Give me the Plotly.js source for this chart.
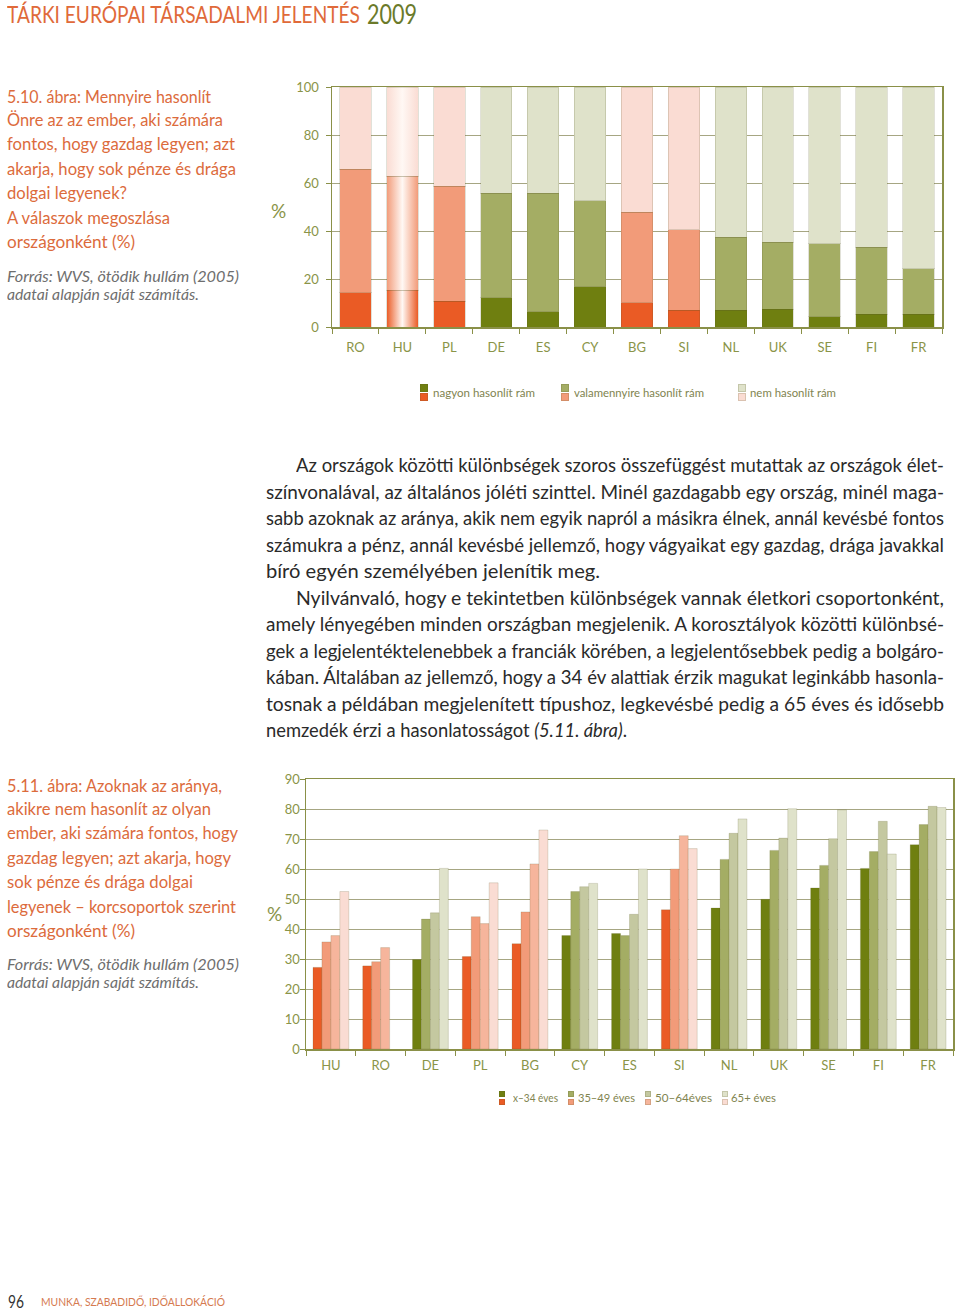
<!DOCTYPE html>
<html><head><meta charset="utf-8">
<script src="https://cdn.plot.ly/plotly-3.0.1.min.js"></script>
<style>
body{margin:0;background:#fff;width:960px;height:1311px;position:relative;overflow:hidden;font-family:Lato,'Noto Sans',sans-serif}
.chart{position:absolute;left:0;width:960px}
.t{position:absolute;white-space:nowrap;transform-origin:0 50%;line-height:1;display:inline-block}
.sw{position:absolute}
</style></head>
<body>
<div id="top" class="chart" style="top:60px;height:320px"></div>
<div id="bot" class="chart" style="top:760px;height:330px"></div>
<div id="txt"></div>
<script>
// ---------- data ----------
const countries1 = ["RO","HU","PL","DE","ES","CY","BG","SI","NL","UK","SE","FI","FR"];
const nagyon = [14.3,15.3,10.7,12.1,6.4,16.8,10.1,6.9,6.9,7.5,4.3,5.3,5.3];
const valamennyire = [51.4,47.6,48.0,43.6,49.3,35.8,37.8,33.7,30.6,27.8,30.4,28.0,18.9];
const nem = [34.3,37.1,41.3,44.3,44.3,47.4,52.1,59.4,62.5,64.7,65.3,66.7,75.8];
const seriesNames1 = ["nagyon hasonlít rám","valamennyire hasonlít rám","nem hasonlít rám"];

const countries2 = ["HU","RO","DE","PL","BG","CY","ES","SI","NL","UK","SE","FI","FR"];
const age34 = [27.2,27.7,29.8,30.8,35.1,37.8,38.5,46.4,47.0,49.9,53.7,60.2,68.1];
const age35_49 = [35.7,29.1,43.3,44.1,45.7,52.5,37.8,60.0,63.2,66.2,61.2,65.8,74.8];
const age50_64 = [37.8,33.8,45.4,41.8,61.7,54.1,44.9,71.1,71.9,70.3,70.1,75.9,80.9];
const age65 = [52.5,null,60.2,55.4,73.0,55.2,60.0,66.8,76.7,80.1,79.7,65.0,80.5];
const seriesNames2 = ["x–34 éves","35–49 éves","50–64éves","65+ éves"];

const orangeCountries = ["RO","HU","PL","BG","SI"];
const yTicks1 = [0,20,40,60,80,100];
const yTicks2 = [0,10,20,30,40,50,60,70,80,90];

// ---------- styles ----------
const ORANGE = ["#ea5b25","#f29b79","#f6b59c","#fadcd3"];
const GREEN  = ["#6f7f10","#a4ad64","#c4c8a0","#dfe2ca"];
const TICKC = "#8a9448", AXC = "#8a9048", GRIDC = "#a6a682";
const FONT = "Lato, 'Noto Sans', sans-serif";

function colorsFor(cats, shade){ return cats.map(c => orangeCountries.includes(c) ? ORANGE[shade] : GREEN[shade]); }

const topShades = [0,1,3];
const topVals = [nagyon, valamennyire, nem];
const topTraces = topVals.map((v,i)=>({
  type:'bar', x:countries1, y:v, name:seriesNames1[i],
  marker:{color:colorsFor(countries1, topShades[i]), line:{color:'rgba(90,90,40,0.18)', width:1}},
  hoverinfo:'skip'
}));
function axisBase(){
  return {showline:true, mirror:true, linecolor:AXC, linewidth:1.5,
    tickfont:{family:FONT,size:13,color:TICKC}, ticks:'outside', ticklen:5, tickcolor:AXC, fixedrange:true};
}
const topLayout = {
  width:960, height:320, margin:{l:332,r:17.5,t:27,b:53},
  paper_bgcolor:'rgba(0,0,0,0)', plot_bgcolor:'#fff',
  barmode:'stack', bargap:0.33, showlegend:false,
  xaxis:Object.assign(axisBase(),{type:'category', tickson:'boundaries', showgrid:false, ticklabelstandoff:8}),
  yaxis:Object.assign(axisBase(),{range:[0,100], tickvals:yTicks1, showgrid:true, gridcolor:GRIDC, gridwidth:1, zeroline:false, ticklabelstandoff:4})
};

const botVals = [age34, age35_49, age50_64, age65];
const botTraces = botVals.map((v,i)=>({
  type:'bar', x:countries2, y:v, name:seriesNames2[i],
  marker:{color:colorsFor(countries2, i), line:{color:'rgba(90,90,40,0.18)', width:1}},
  hoverinfo:'skip'
}));
const botLayout = {
  width:960, height:330, margin:{l:306,r:7,t:19,b:41},
  paper_bgcolor:'rgba(0,0,0,0)', plot_bgcolor:'#fff',
  barmode:'group', bargap:0.28, bargroupgap:0, showlegend:false,
  xaxis:Object.assign(axisBase(),{type:'category', tickson:'boundaries', showgrid:false, ticklabelstandoff:4}),
  yaxis:Object.assign(axisBase(),{range:[0,90], tickvals:yTicks2, showgrid:true, gridcolor:GRIDC, gridwidth:1, zeroline:false, ticklabelstandoff:-3})
};

const cfg = {displayModeBar:false, staticPlot:true};
Plotly.newPlot('top', topTraces, topLayout, cfg).then(gd=>{
  // HU column drawn with a horizontal light-centre gradient, as in the original
  const ns='http://www.w3.org/2000/svg';
  const svg = gd.querySelector('svg.main-svg');
  let defs = svg.querySelector('defs') || svg.insertBefore(document.createElementNS(ns,'defs'), svg.firstChild);
  const idx = countries1.indexOf('HU');
  gd.querySelectorAll('.barlayer .trace').forEach((tr,i)=>{
    const p = tr.querySelectorAll('.point')[idx];
    if(!p) return;
    const path = p.querySelector('path');
    const c = ORANGE[topShades[i]];
    const g = document.createElementNS(ns,'linearGradient');
    g.setAttribute('id','huGrad'+i); g.setAttribute('x1','0'); g.setAttribute('x2','1'); g.setAttribute('y1','0'); g.setAttribute('y2','0');
    [[0,c],[0.5,'#fff8f4'],[1,c]].forEach(([o,col])=>{
      const s=document.createElementNS(ns,'stop'); s.setAttribute('offset',o); s.setAttribute('stop-color',col); g.appendChild(s);
    });
    defs.appendChild(g);
    path.style.fill = 'url(#huGrad'+i+')';
  });
});
Plotly.newPlot('bot', botTraces, botLayout, cfg);

// ---------- text ----------
const txt = document.getElementById('txt');
function line(html, x, yc, size, color, opts={}){
  const el = document.createElement('span');
  el.className='t';
  el.innerHTML = html;
  el.style.left = x+'px';
  el.style.fontSize = size+'px';
  el.style.color = color;
  if(opts.italic) el.style.fontStyle='italic';
  if(opts.weight) el.style.fontWeight=opts.weight;
  txt.appendChild(el);
  const h = el.getBoundingClientRect().height;
  el.style.top = (yc - h/2 + (opts.dy||0))+'px';
  const w = el.getBoundingClientRect().width;
  if(opts.justify){
    const n = (el.textContent.match(/ /g)||[]).length;
    if(w < opts.justify && n>0){ el.style.wordSpacing = ((opts.justify-w)/n)+'px'; }
    else if(w > opts.justify){ el.style.transform='scaleX('+(opts.justify/w)+')'; }
  } else if(opts.w){
    el.style.transform='scaleX('+(opts.w/w)+')';
  }
  return el;
}
const CAP = "#dc6b3c", SRC="#6e6e6e", BODY="#2a2a2a";
// header
line("TÁRKI EURÓPAI TÁRSADALMI JELENTÉS", 7, 14, 23, "#e06a3a", {w:353});
line("2009", 367, 14, 26, "#6b7a2a", {w:50});

// caption 5.10
const cap1 = [["5.10. ábra: Mennyire hasonlít",96.5,204],["Önre az az ember, aki számára",119.5,216],["fontos, hogy gazdag legyen; azt",143.5,228],
 ["akarja, hogy sok pénze és drága",168,229],["dolgai legyenek?",192.5,120],["A válaszok megoszlása",217,163],["országonként (%)",241,128]];
cap1.forEach(([t,y,w])=>line(t,7,y,17,CAP,{w:w}));
line("Forrás: WVS, ötödik hullám (2005)",7,276,15,SRC,{italic:true,w:232});
line("adatai alapján saját számítás.",7,294,15,SRC,{italic:true,w:192});

// percent labels
line("%",271,210,19,"#8a9448",{});
line("%",267,913,19,"#8a9448",{});

// caption 5.11
const cap2 = [["5.11. ábra: Azoknak az aránya,",785,215],["akikre nem hasonlít az olyan",808.5,204],["ember, aki számára fontos, hogy",832.5,231],
 ["gazdag legyen; azt akarja, hogy",857,224],["sok pénze és drága dolgai",881,186],["legyenek – korcsoportok szerint",906,229],["országonként (%)",930,128]];
cap2.forEach(([t,y,w])=>line(t,7,y,17,CAP,{w:w}));
line("Forrás: WVS, ötödik hullám (2005)",7,964,15,SRC,{italic:true,w:232});
line("adatai alapján saját számítás.",7,982,15,SRC,{italic:true,w:192});

// body paragraph
const para = [
 ["Az országok közötti különbségek szoros összefüggést mutattak az országok élet-",296,465,648],
 ["színvonalával, az általános jóléti szinttel. Minél gazdagabb egy ország, minél maga-",266,491.5,678],
 ["sabb azoknak az aránya, akik nem egyik napról a másikra élnek, annál kevésbé fontos",266,518,678],
 ["számukra a pénz, annál kevésbé jellemző, hogy vágyaikat egy gazdag, drága javakkal",266,544.5,678],
 ["bíró egyén személyében jelenítik meg.",266,571,0,334],
 ["Nyilvánvaló, hogy e tekintetben különbségek vannak életkori csoportonként,",296,597.5,648],
 ["amely lényegében minden országban megjelenik. A korosztályok közötti különbsé-",266,624,678],
 ["gek a legjelentéktelenebbek a franciák körében, a legjelentősebbek pedig a bolgáro-",266,650.5,678],
 ["kában. Általában az jellemző, hogy a 34 év alattiak érzik magukat leginkább hasonla-",266,677,678],
 ["tosnak a példában megjelenített típushoz, legkevésbé pedig a 65 éves és idősebb",266,703.5,678],
 ["nemzedék érzi a hasonlatosságot <i>(5.11. ábra)</i>.",266,730,0,361]
];
para.forEach(([t,x,y,j,w])=> j ? line(t,x,y,19.5,BODY,{justify:j}) : line(t,x,y,19.5,BODY,{w:w}));

// legends (drawn as swatch pairs: green over orange)
function swatch(x,y,s,cTop,cBot){
  [[y,cTop],[y+s+1.5,cBot]].forEach(([yy,c])=>{
    const d=document.createElement('div'); d.className='sw';
    Object.assign(d.style,{left:x+'px',top:yy+'px',width:s+'px',height:s+'px',background:c,boxShadow:'inset 0 0 0 1px rgba(90,90,40,0.2)'});
    txt.appendChild(d);
  });
}
const LEGC="#7f8450";
const leg1 = [[420,433,102],[561,574,130],[738,750,86]];
leg1.forEach(([sx,tx,w],i)=>{ swatch(sx,384,7.5,GREEN[topShades[i]],ORANGE[topShades[i]]); line(seriesNames1[i],tx,393,12,LEGC,{w:w}); });
const leg2 = [[499,513,45],[568,578,57],[645,655,57],[722,731,45]];
leg2.forEach(([sx,tx,w],i)=>{ swatch(sx,1091,6,GREEN[i],ORANGE[i]); line(seriesNames2[i],tx,1098,12,LEGC,{w:w}); });

// footer
line("96",8,1301,17,"#333",{w:16});
line("MUNKA, SZABADIDŐ, IDŐALLOKÁCIÓ",41,1302,12,"#d57a50",{w:184});
</script>
</body></html>
